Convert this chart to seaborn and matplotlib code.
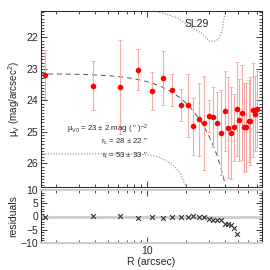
import numpy as np
import pandas as pd
import matplotlib
matplotlib.use("Agg")
import matplotlib.pyplot as plt
import seaborn as sns
from matplotlib.ticker import MultipleLocator, LogLocator, NullFormatter, FixedLocator, FixedFormatter

# surface brightness profile
radius = [1.65, 3.85, 6.24, 8.62, 11.0, 13.4, 15.7, 18.2, 20.7, 22.8,
          25.2, 27.6, 30.3, 32.5, 34.9, 37.3, 39.8, 42.0, 44.5, 46.9,
          49.2, 51.5, 53.8, 56.0, 58.0, 60.9, 62.6, 65.3, 67.6, 70.0]
mu_v = [23.19, 23.53, 23.58, 23.03, 23.70, 23.29, 23.67, 24.14, 24.16, 24.82,
        24.60, 24.72, 24.50, 24.52, 24.72, 25.02, 24.34, 24.87, 25.03, 24.86,
        24.28, 24.62, 24.39, 24.86, 24.84, 24.65, 24.66, 24.31, 24.42, 24.28]
mu_err = [0.78, 0.78, 1.5, 0.65, 0.6, 0.87, 0.5, 0.5, 1.0, 0.9,
          1.15, 1.5, 0.5, 0.95, 1.0, 1.35, 1.28, 1.6, 1.47, 1.05,
          1.5, 1.3, 1.5, 1.4, 1.4, 1.3, 1.4, 1.5, 1.2, 1.2]
# residuals exist only inside the tidal radius (first 21 points)
resid = [0.0, 0.25, 0.25, -0.6, 0.0, -0.5, -0.25, 0.0, -0.25, 0.25,
         -0.25, -0.25, -0.9, -1.25, -1.25, -1.5, -2.75, -2.9, -3.25, -4.4, -6.6]

# King fit parameters
mu0, r_c, r_t = 23.15, 28.0, 53.0

# comparison curves (dotted)
sl29_r = [11.9, 14.5, 17.5, 21.5, 26.5, 30.7, 34.5, 36.5, 38.3, 40.0]
sl29_mu = [21.17, 21.27, 21.39, 21.66, 21.87, 22.13, 22.10, 21.98, 21.70, 21.20]
bg_r = [1.5, 8.0, 10.5, 12.66, 15.6, 18.0, 19.95, 20.5]
bg_mu = [25.70, 25.70, 25.73, 25.81, 26.02, 26.29, 26.71, 26.9]

prof = pd.DataFrame({"r": radius, "mu": mu_v, "err": mu_err})
res = pd.DataFrame({"r": radius[:len(resid)], "res": resid})

r_mod = np.geomspace(1.5, r_t * 0.999, 300)
f = 1 / np.sqrt(1 + (r_mod / r_c) ** 2) - 1 / np.sqrt(1 + (r_t / r_c) ** 2)
f0 = 1 - 1 / np.sqrt(1 + (r_t / r_c) ** 2)
mod = pd.DataFrame({"r": r_mod, "mu": mu0 - 2.5 * np.log10((f / f0) ** 2)})

sns.set_style("ticks")
plt.rcParams["font.family"] = ["Liberation Sans", "DejaVu Sans"]
plt.rcParams["mathtext.fontset"] = "custom"
plt.rcParams["mathtext.rm"] = "Liberation Sans"
plt.rcParams["mathtext.it"] = "Liberation Sans"
plt.rcParams["font.size"] = 7.5

fig = plt.figure(figsize=(2.7, 2.7), dpi=100)
W = H = 270.0
ax = fig.add_axes([41 / W, 1 - 187 / H, (262 - 41) / W, (187 - 11) / H])
axr = fig.add_axes([41 / W, 1 - 243 / H, (262 - 41) / W, (243 - 190) / H], sharex=ax)

pink = "#f6a9a9"
ax.errorbar(prof["r"], prof["mu"], yerr=prof["err"], fmt="none",
            ecolor=pink, elinewidth=0.8, capsize=1.5, capthick=0.6, zorder=2)
sns.scatterplot(data=prof, x="r", y="mu", ax=ax, color="red", s=16,
                edgecolor="red", linewidth=0, zorder=3)
sns.lineplot(data=mod, x="r", y="mu", ax=ax, color="#555555", lw=0.7,
             linestyle=(0, (5, 4)), zorder=1)
ax.plot(sl29_r, sl29_mu, color="#888888", lw=0.8, linestyle=(0, (1, 1.5)))
ax.plot(bg_r, bg_mu, color="#888888", lw=0.8, linestyle=(0, (1, 1.5)))
ax.text(24.2, 21.57, "SL29", ha="center", va="center", fontsize=7.5)

ax.set_xscale("log")
ax.set_xlim(1.54, 77)
ax.set_ylim(26.75, 21.16)
ax.set_xlabel("")
ax.set_ylabel("μ$_V$ (mag/arcsec$^2$)", fontsize=7, labelpad=3)
ax.yaxis.set_major_locator(MultipleLocator(1))
ax.yaxis.set_minor_locator(MultipleLocator(0.1))
ax.tick_params(axis="x", which="both", labelbottom=False)

fig.text(148 / W, 1 - 129 / H, 'μ$_{V0}$ = 23 ± 2 mag ( " )$^{-2}$', ha="right", va="center", fontsize=5.6)
fig.text(148 / W, 1 - 142 / H, 'r$_c$ = 28 ± 22 "', ha="right", va="center", fontsize=5.6)
fig.text(148 / W, 1 - 156 / H, 'r$_t$ = 53 ± 33 "', ha="right", va="center", fontsize=5.6)

# residuals panel
axr.axhline(0, color="#cccccc", lw=2, zorder=1)
sns.scatterplot(data=res, x="r", y="res", ax=axr, marker="x", color="#333333",
                s=12, linewidth=0.8, zorder=3)
axr.set_ylim(-10, 10)
axr.set_ylabel("residuals", fontsize=7.5, labelpad=2)
axr.set_xlabel("R (arcsec)", fontsize=7.5, labelpad=1)
axr.yaxis.set_major_locator(FixedLocator([-10, -5, 0, 5, 10]))
axr.yaxis.set_major_formatter(FixedFormatter(["−10", "−5", "0", "5", "10"]))
axr.yaxis.set_minor_locator(MultipleLocator(1))
axr.xaxis.set_major_locator(FixedLocator([10]))
axr.xaxis.set_major_formatter(FixedFormatter(["10"]))
axr.xaxis.set_minor_locator(LogLocator(base=10, subs=np.arange(2, 10)))
axr.xaxis.set_minor_formatter(NullFormatter())
for s in ("top", "bottom"):
    axr.spines[s].set_color("#cccccc")
    axr.spines[s].set_linewidth(1.5)

for a in (ax, axr):
    a.tick_params(which="both", direction="in", top=True, right=True,
                  labelsize=7.5, pad=2, width=0.6)
    a.tick_params(which="major", length=4)
    a.tick_params(which="minor", length=2)
    for s in ("left", "right"):
        a.spines[s].set_linewidth(0.8)
        a.spines[s].set_color("#333333")
ax.spines["top"].set_linewidth(0.8)
ax.spines["bottom"].set_linewidth(0.8)
ax.spines["top"].set_color("#333333")
ax.spines["bottom"].set_color("#333333")

fig.savefig("out.png", dpi=100)
